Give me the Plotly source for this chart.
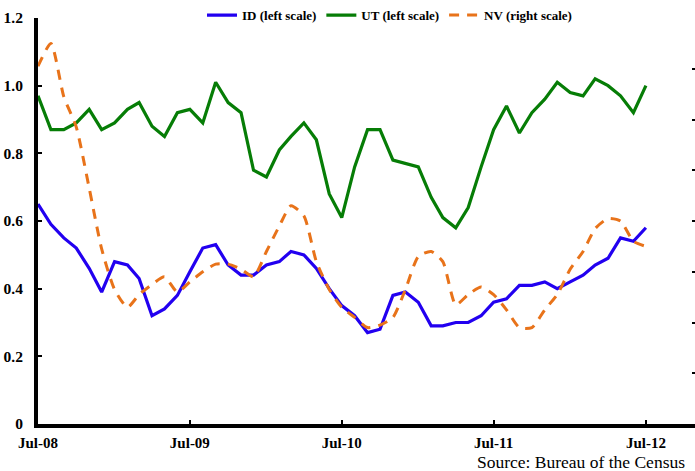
import pandas as pd
import plotly.graph_objects as go

# Monthly observations, Jul-2008 through Jul-2012
months = pd.date_range("2008-07-01", "2012-07-01", freq="MS")

id_vals = [0.65, 0.59, 0.55, 0.52, 0.46, 0.39, 0.48, 0.47, 0.43, 0.32,
           0.34, 0.38, 0.45, 0.52, 0.53, 0.47, 0.44, 0.44, 0.47, 0.48,
           0.51, 0.50, 0.46, 0.40, 0.35, 0.32, 0.27, 0.28, 0.38, 0.39,
           0.36, 0.29, 0.29, 0.30, 0.30, 0.32, 0.36, 0.37, 0.41, 0.41,
           0.42, 0.40, 0.42, 0.44, 0.47, 0.49, 0.55, 0.54, 0.58]

ut_vals = [0.97, 0.87, 0.87, 0.89, 0.93, 0.87, 0.89, 0.93, 0.95, 0.88,
           0.85, 0.92, 0.93, 0.89, 1.01, 0.95, 0.92, 0.75, 0.73, 0.81,
           0.85, 0.89, 0.84, 0.68, 0.61, 0.76, 0.87, 0.87, 0.78, 0.77,
           0.76, 0.67, 0.61, 0.58, 0.64, 0.76, 0.87, 0.94, 0.86, 0.92,
           0.96, 1.01, 0.98, 0.97, 1.02, 1.00, 0.97, 0.92, 1.00]

nv_vals = [1.41, 1.50, 1.29, 1.17, 0.93, 0.69, 0.53, 0.46, 0.51, 0.55,
           0.58, 0.52, 0.56, 0.60, 0.63, 0.63, 0.61, 0.58, 0.68, 0.78,
           0.86, 0.82, 0.64, 0.53, 0.46, 0.42, 0.38, 0.39, 0.42, 0.53,
           0.66, 0.68, 0.64, 0.47, 0.51, 0.54, 0.51, 0.45, 0.38, 0.38,
           0.45, 0.51, 0.61, 0.68, 0.77, 0.81, 0.80, 0.72, 0.70]

left_ticks = [0, 0.2, 0.4, 0.6, 0.8, 1.0, 1.2]
left_labels = ["0", "0.2", "0.4", "0.6", "0.8", "1.0", "1.2"]

serif = "Liberation Serif, Times New Roman, serif"

fig = go.Figure()
fig.add_trace(go.Scatter(x=months, y=id_vals, name="ID (left scale)", mode="lines",
                         line=dict(color="#2200F0", width=3.2)))
fig.add_trace(go.Scatter(x=months, y=ut_vals, name="UT (left scale)", mode="lines",
                         line=dict(color="#067D06", width=3.2)))
fig.add_trace(go.Scatter(x=months, y=nv_vals, name="NV (right scale)", mode="lines",
                         yaxis="y2",
                         line=dict(color="#E8731A", width=3, dash="10px,8px",
                                   shape="spline", smoothing=0.6)))

fig.update_layout(
    width=695, height=471,
    margin=dict(l=38, r=0, t=16, b=47),
    paper_bgcolor="white", plot_bgcolor="white",
    font=dict(family=serif, color="black"),
    showlegend=True,
    legend=dict(orientation="h", x=0.535, xanchor="center", y=1.007, yanchor="middle",
                bgcolor="rgba(0,0,0,0)",
                font=dict(family=serif, size=13, color="black", weight="bold"),
                itemwidth=30, tracegroupgap=0),
    xaxis=dict(
        type="date",
        range=["2008-07-01", "2012-10-27"],
        tick0="2008-07-01", dtick="M12", tickformat="%b-%y",
        ticks="inside", ticklen=4, tickwidth=2, tickcolor="black",
        showline=True, linewidth=4, linecolor="black",
        showgrid=False, zeroline=False,
        ticklabelstandoff=2,
        tickfont=dict(family=serif, size=15, color="black", weight="bold"),
    ),
    yaxis=dict(
        range=[0, 1.2],
        tickvals=left_ticks, ticktext=left_labels,
        ticks="inside", ticklen=4, tickwidth=2, tickcolor="black",
        showline=True, linewidth=4, linecolor="black",
        showgrid=False, zeroline=False,
        ticklabelstandoff=8,
        tickfont=dict(family=serif, size=15.5, color="black", weight="bold"),
    ),
    yaxis2=dict(
        overlaying="y", side="right",
        range=[0, 1.6], dtick=0.2,
        ticks="inside", ticklen=3, tickwidth=2, tickcolor="black",
        showline=False, showgrid=False, zeroline=False,
        showticklabels=False,
    ),
)

fig.add_annotation(
    text="Source: Bureau of the Census",
    xref="paper", yref="paper", x=1, y=0, xanchor="right", yanchor="top",
    xshift=-8, yshift=-26, showarrow=False,
    font=dict(family=serif, size=17.5, color="black"),
)

fig.write_html("out.html")
